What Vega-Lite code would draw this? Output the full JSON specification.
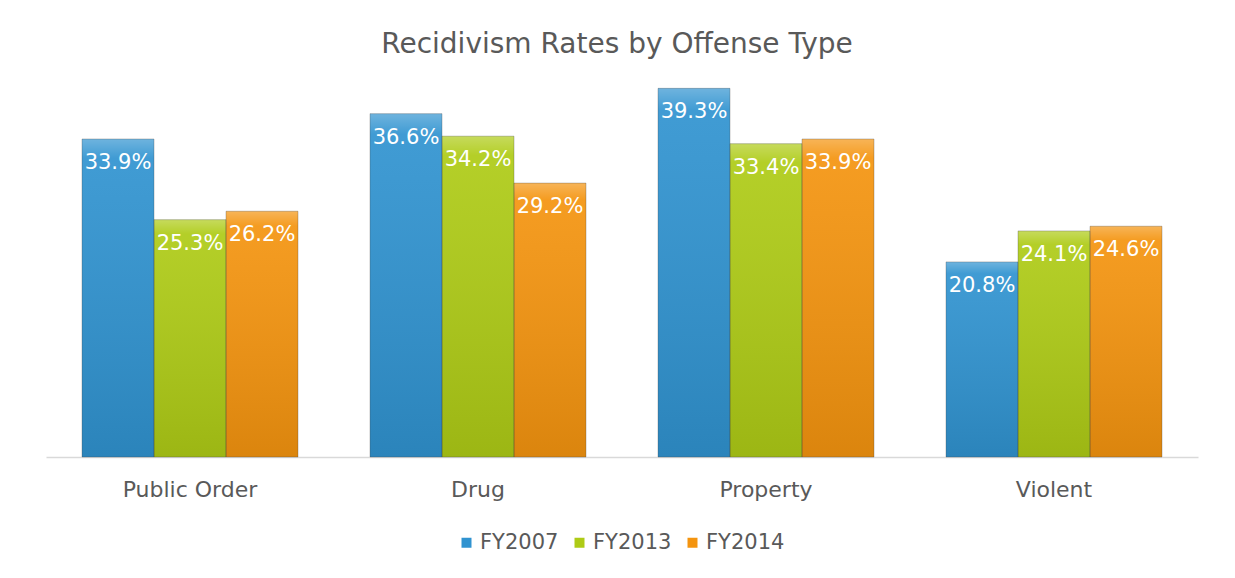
{
  "$schema": "https://vega.github.io/schema/vega-lite/v6.json",
  "autosize": "none",
  "width": 1152,
  "height": 394,
  "padding": {"left": 46, "top": 63, "right": 37, "bottom": 121},
  "background": "white",
  "config": {"view": {"stroke": null}, "font": "DejaVu Sans"},
  "title": {
    "text": "Recidivism Rates by Offense Type",
    "fontSize": 28,
    "fontWeight": "normal",
    "color": "#595959",
    "anchor": "middle",
    "offset": 4,
    "dx": -5
  },
  "data": {
    "values": [
      {"offense": "Public Order", "year": "FY2007", "rate": 0.339},
      {"offense": "Public Order", "year": "FY2013", "rate": 0.253},
      {"offense": "Public Order", "year": "FY2014", "rate": 0.262},
      {"offense": "Drug", "year": "FY2007", "rate": 0.366},
      {"offense": "Drug", "year": "FY2013", "rate": 0.342},
      {"offense": "Drug", "year": "FY2014", "rate": 0.292},
      {"offense": "Property", "year": "FY2007", "rate": 0.393},
      {"offense": "Property", "year": "FY2013", "rate": 0.334},
      {"offense": "Property", "year": "FY2014", "rate": 0.339},
      {"offense": "Violent", "year": "FY2007", "rate": 0.208},
      {"offense": "Violent", "year": "FY2013", "rate": 0.241},
      {"offense": "Violent", "year": "FY2014", "rate": 0.246}
    ]
  },
  "encoding": {
    "x": {
      "field": "offense",
      "type": "nominal",
      "sort": ["Public Order", "Drug", "Property", "Violent"],
      "scale": {"paddingInner": 0.25, "paddingOuter": 0.125},
      "axis": {
        "title": null,
        "labelAngle": 0,
        "labelFontSize": 22,
        "labelColor": "#595959",
        "labelPadding": 22,
        "ticks": false,
        "domainColor": "#D9D9D9",
        "domainWidth": 1.5
      }
    },
    "xOffset": {"field": "year", "type": "nominal", "scale": {"paddingInner": 0}},
    "y": {
      "field": "rate",
      "type": "quantitative",
      "scale": {"domain": [0, 0.42], "nice": false},
      "axis": null
    }
  },
  "layer": [
    {
      "mark": {"type": "bar"},
      "encoding": {
        "color": {
          "field": "year",
          "type": "nominal",
          "scale": {
            "domain": ["FY2007", "FY2013", "FY2014"],
            "range": ["#3093D0", "#AECB16", "#F4940F"]
          },
          "legend": {
            "title": null,
            "orient": "none",
            "legendX": 410,
            "legendY": 469,
            "direction": "horizontal",
            "symbolType": "square",
            "symbolSize": 100,
            "labelFontSize": 21,
            "labelColor": "#595959",
            "columnPadding": 10,
            "labelOffset": 3
          }
        }
      }
    },
    {
      "mark": {
        "type": "bar",
        "stroke": "#444444",
        "strokeOpacity": 0.3,
        "strokeWidth": 1,
        "color": {
          "gradient": "linear", "x1": 0, "y1": 0, "x2": 0, "y2": 1,
          "stops": [
            {"offset": 0, "color": "rgba(255,255,255,0.3)"},
            {"offset": 0.06, "color": "rgba(255,255,255,0.08)"},
            {"offset": 1, "color": "rgba(0,0,0,0.1)"}
          ]
        }
      },
      "encoding": {}
    },
    {
      "mark": {"type": "text", "color": "white", "fontSize": 21, "baseline": "top", "dy": 13},
      "encoding": {
        "text": {"field": "rate", "type": "quantitative", "format": ".1%"}
      }
    }
  ]
}
